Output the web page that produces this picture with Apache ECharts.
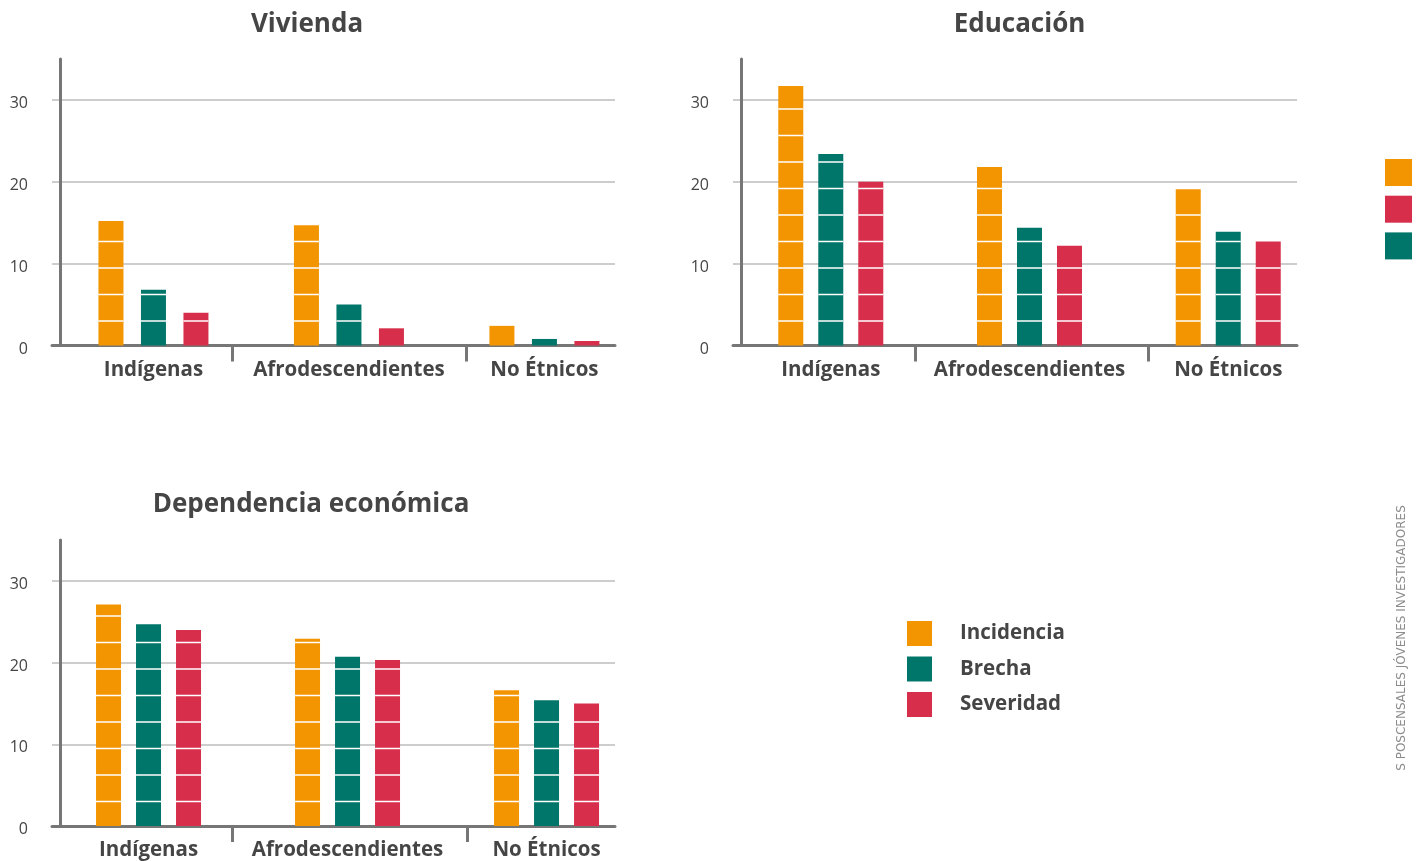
<!DOCTYPE html>
<html><head><meta charset="utf-8">
<script src="https://cdn.jsdelivr.net/npm/echarts@6/dist/echarts.min.js"></script>
<style>html,body{margin:0;padding:0;background:#fff}#c{width:1420px;height:861px}</style>
</head><body><div id="c"></div>
<script>
// ---------- data ----------
const categories = ['Indígenas', 'Afrodescendientes', 'No Étnicos'];
const seriesNames = ['Incidencia', 'Brecha', 'Severidad'];
const chartTitles = ['Vivienda', 'Educación', 'Dependencia económica'];
const yTickLabels = [0, 10, 20, 30];

const viviendaIncidencia = [15.2, 14.7, 2.4];
const viviendaBrecha = [6.8, 5.0, 0.8];
const viviendaSeveridad = [4.0, 2.1, 0.55];

const educacionIncidencia = [31.7, 21.8, 19.1];
const educacionBrecha = [23.4, 14.4, 13.9];
const educacionSeveridad = [20.0, 12.2, 12.7];

const dependenciaIncidencia = [27.1, 22.9, 16.6];
const dependenciaBrecha = [24.7, 20.7, 15.4];
const dependenciaSeveridad = [24.0, 20.3, 15.0];

const sideText = 'S POSCENSALES JÓVENES INVESTIGADORES';

// ---------- style ----------
const FONT = '"Open Sans", "DejaVu Sans", sans-serif';
const TEXT = '#454545';
const AXIS = '#767676';
const GRIDC = '#bdbdbd';
const colors = ['#f39500', '#00766a', '#d72e4b'];

const panels = [
  { title: chartTitles[0], tx: 307, ty: 12, grid: { left: 52, top: 59, width: 563, height: 286.5 },
    xMin: -0.519, xMax: 2.361, step: 42.5, dividers: [0.404, 1.601],
    values: [viviendaIncidencia, viviendaBrecha, viviendaSeveridad] },
  { title: chartTitles[1], tx: 1019.5, ty: 12, grid: { left: 733, top: 59, width: 564, height: 286.5 },
    xMin: -0.492, xMax: 2.346, step: 40, dividers: [0.423, 1.6],
    values: [educacionIncidencia, educacionBrecha, educacionSeveridad] },
  { title: chartTitles[2], tx: 311, ty: 492, grid: { left: 52, top: 540, width: 563, height: 286 },
    xMin: -0.485, xMax: 2.344, step: 40, dividers: [0.423, 1.6],
    values: [dependenciaIncidencia, dependenciaBrecha, dependenciaSeveridad] }
];

const BAR_W = 25;
function makeRender(offset) {
  return function (params, api) {
    const x = api.value(0), v = api.value(1);
    const base = api.coord([x, 0]);
    const top = api.coord([x, v]);
    const left = base[0] + offset - BAR_W / 2;
    const children = [{
      type: 'rect',
      shape: { x: left, y: top[1], width: BAR_W, height: base[1] - top[1] },
      style: { fill: api.visual('color') }
    }];
    for (let yy = base[1] - 24.5; yy > top[1] + 1.5; yy -= 26.5) {
      children.push({ type: 'rect', shape: { x: left, y: yy - 0.75, width: BAR_W, height: 1.5 }, style: { fill: '#ffffff' } });
    }
    return { type: 'group', children: children };
  };
}

const option = {
  animation: false,
  backgroundColor: '#ffffff',
  title: panels.map(p => ({
    text: p.title, left: p.tx, top: p.ty, textAlign: 'center', padding: 0,
    textStyle: { fontFamily: FONT, fontWeight: 'bold', fontSize: 26, color: TEXT }
  })),
  grid: panels.map(p => Object.assign({ containLabel: false }, p.grid)),
  xAxis: panels.map((p, i) => ({
    type: 'value', gridIndex: i, min: p.xMin, max: p.xMax,
    axisLine: { show: true, onZero: false, lineStyle: { color: AXIS, width: 3 } },
    axisTick: { show: true, customValues: p.dividers, length: 16, lineStyle: { color: AXIS, width: 3 } },
    axisLabel: { show: true, customValues: [0, 1, 2], formatter: v => categories[Math.round(v)] || '',
      margin: 14, fontFamily: FONT, fontWeight: 'bold', fontSize: 20.5, color: TEXT },
    splitLine: { show: false }
  })),
  yAxis: panels.map((p, i) => ({
    type: 'value', gridIndex: i, min: 0, max: 35, interval: 10, offset: -8,
    axisLine: { show: true, onZero: false, lineStyle: { color: AXIS, width: 3 } },
    axisTick: { show: false },
    axisLabel: { customValues: yTickLabels, margin: 32, fontFamily: FONT, fontSize: 16, color: TEXT,
      verticalAlign: 'top', lineHeight: 7 },
    splitLine: { show: true, showMinLine: false, showMaxLine: false, lineStyle: { color: GRIDC, width: 1.5 } }
  })),
  legend: [
    { data: seriesNames, orient: 'vertical', left: 907, top: 621, itemWidth: 25, itemHeight: 25, itemGap: 10.5,
      icon: 'rect', padding: 0, selectedMode: false,
      textStyle: { fontFamily: FONT, fontWeight: 'bold', fontSize: 20.5, color: TEXT, padding: [3, 0, 0, 23] } },
    { data: ['Incidencia', 'Severidad', 'Brecha'], orient: 'vertical', left: 1385, top: 159, itemWidth: 27, itemHeight: 27, itemGap: 9.7,
      icon: 'rect', padding: 0, selectedMode: false,
      textStyle: { fontFamily: FONT, fontWeight: 'bold', fontSize: 20.5, color: TEXT, padding: [0, 0, 0, 40] } }
  ],
  graphic: [{
    type: 'text', x: 1402, y: 638, rotation: Math.PI / 2, silent: true,
    style: { text: sideText, fill: '#8c8c8c', fontFamily: '"DejaVu Sans", sans-serif', fontSize: 12, align: 'center', verticalAlign: 'middle' }
  }],
  series: []
};

panels.forEach((p, i) => {
  p.values.forEach((arr, k) => {
    option.series.push({
      type: 'custom', name: seriesNames[k], xAxisIndex: i, yAxisIndex: i,
      itemStyle: { color: colors[k] },
      encode: { x: 0, y: 1 },
      data: arr.map((v, j) => [j, v]),
      renderItem: makeRender((k - 1) * p.step)
    });
  });
});

const chart = echarts.init(document.getElementById('c'));
chart.setOption(option);
</script>
</body></html>
